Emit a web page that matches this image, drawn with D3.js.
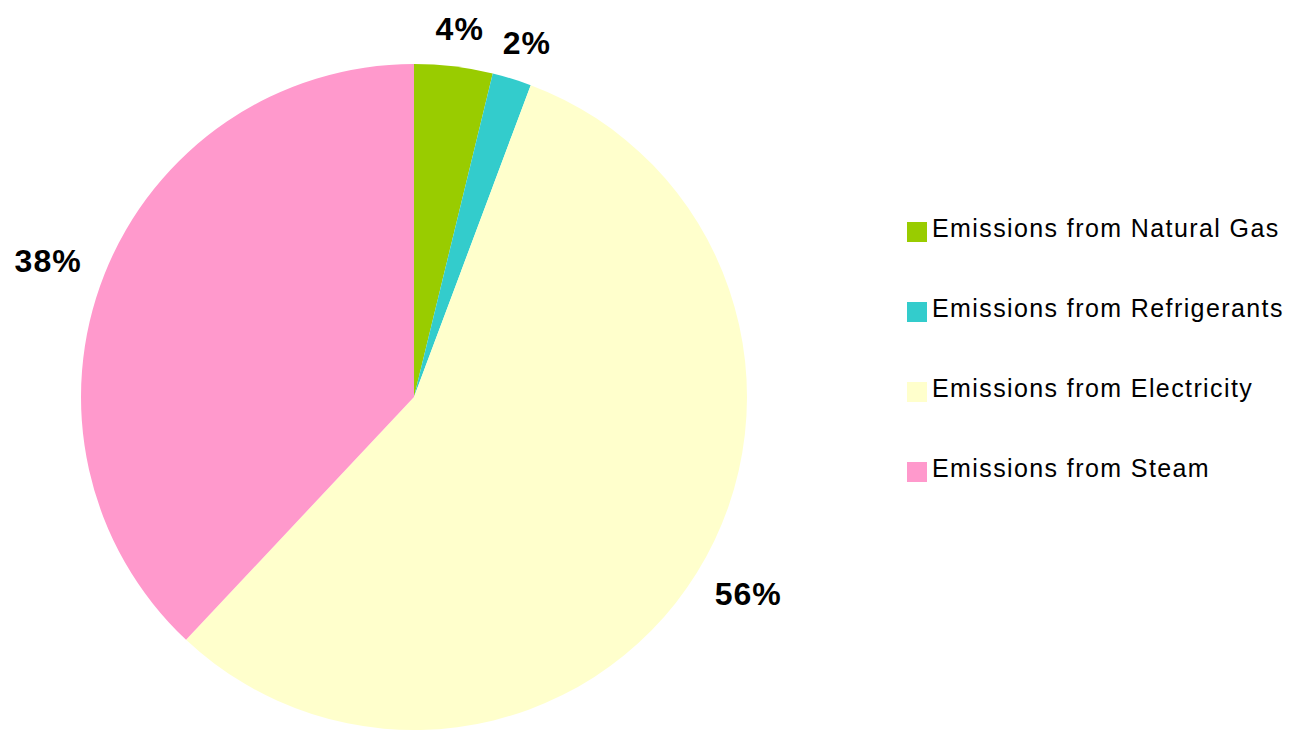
<!DOCTYPE html>
<html>
<head>
<meta charset="utf-8">
<script src="https://cdn.jsdelivr.net/npm/d3@7"></script>
<style>
  body { margin: 0; background: #fff; }
  svg { display: block; font-family: "Liberation Sans", Arial, sans-serif; }
</style>
</head>
<body>
<svg id="chart" width="1289" height="730"></svg>
<script>
// Data
var categories = ["Emissions from Natural Gas", "Emissions from Refrigerants", "Emissions from Electricity", "Emissions from Steam"];
var values = [3.8, 1.9, 56.3, 38.0];
var labels = ["4%", "2%", "56%", "38%"];
var colors = ["#99CC00", "#33CCCC", "#FFFFCC", "#FF99CC"];

var svg = d3.select("#chart");
var cx = 414, cy = 397, r = 333;

var pie = d3.pie().sort(null).value(d => d.value);
var arcs = pie(values.map((v, i) => ({value: v, i: i})));
var arc = d3.arc().innerRadius(0).outerRadius(r);

var g = svg.append("g").attr("transform", `translate(${cx},${cy})`);

g.selectAll("path")
    .data(arcs)
    .join("path")
    .attr("d", arc)
    .attr("fill", d => colors[d.data.i]);

// labels outside the end of each slice
var fontSize = 32, labelR = r + 27;
g.selectAll("text.lbl")
    .data(arcs)
    .join("text")
    .attr("class", "lbl")
    .attr("font-size", fontSize)
    .attr("font-weight", "bold")
    .attr("letter-spacing", 1)
    .attr("text-anchor", "middle")
    .attr("dominant-baseline", "central")
    .text(d => labels[d.data.i])
    .each(function (d) {
        var w = this.getComputedTextLength();
        var h = fontSize * 0.72;
        var a = (d.startAngle + d.endAngle) / 2;
        var dx = Math.sin(a), dy = -Math.cos(a);
        var x = dx * labelR + dx * w / 2;
        var y = dy * labelR + dy * h / 2;
        d3.select(this).attr("x", x).attr("y", y + 1);
    });

// Legend
var legend = svg.append("g").attr("transform", "translate(907,0)");
var rowY = d3.scaleLinear().domain([0, 1]).range([237, 317]);

var rows = legend.selectAll("g")
    .data(categories)
    .join("g")
    .attr("transform", (d, i) => `translate(0,${rowY(i)})`);

rows.append("rect")
    .attr("x", 0)
    .attr("y", -15)
    .attr("width", 20)
    .attr("height", 20)
    .attr("fill", (d, i) => colors[i]);

rows.append("text")
    .attr("x", 25)
    .attr("y", 0)
    .attr("font-size", 25)
    .attr("letter-spacing", 1.4)
    .attr("fill", "#000")
    .text(d => d);
</script>
</body>
</html>
